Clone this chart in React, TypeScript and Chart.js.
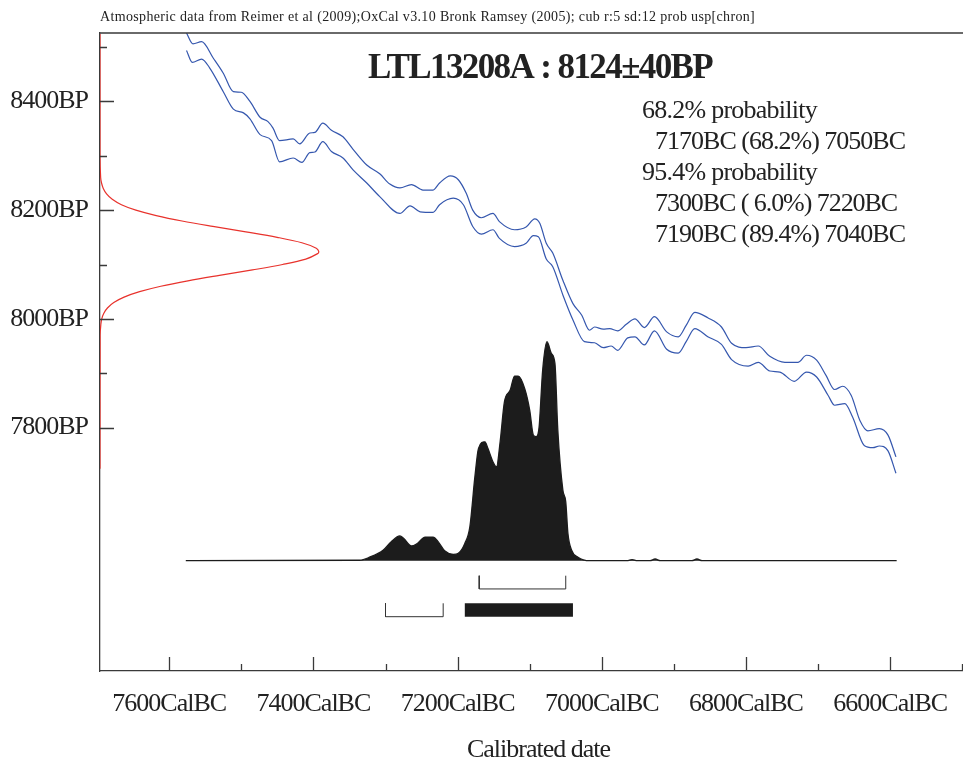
import React, { useEffect, useRef } from 'react';
import { Chart, registerables } from 'chart.js';

Chart.register(...registerables);

// ---------- DATA ----------
const X_TICKS = [7600, 7500, 7400, 7300, 7200, 7100, 7000, 6900, 6800, 6700, 6600, 6500];
const Y_TICKS = [8500, 8400, 8300, 8200, 8100, 8000, 7900, 7800];

// Calibration curve (IntCal09), upper and lower 1-sigma envelope: cal BC vs 14C BP
const UPPER_YEARS = [7576, 7567, 7555, 7539, 7525, 7511, 7500, 7488, 7474, 7463, 7456, 7447, 7428, 7419, 7405, 7398, 7387, 7375, 7359, 7345, 7326, 7308, 7294, 7280, 7264, 7248, 7234, 7225, 7210, 7199, 7188, 7179, 7167, 7151, 7142, 7121, 7105, 7093, 7086, 7077, 7068, 7054, 7040, 7028, 7017, 7010, 6998, 6989, 6978, 6966, 6954, 6941, 6927, 6910, 6894, 6883, 6871, 6853, 6834, 6820, 6800, 6783, 6767, 6746, 6728, 6716, 6702, 6689, 6677, 6666, 6654, 6642, 6631, 6615, 6603, 6592];
const UPPER_BP = [8526, 8506, 8510, 8480, 8452, 8418, 8417, 8400, 8371, 8363, 8351, 8328, 8331, 8322, 8342, 8343, 8360, 8347, 8335, 8312, 8283, 8267, 8248, 8241, 8247, 8237, 8237, 8250, 8263, 8256, 8231, 8200, 8186, 8194, 8179, 8164, 8169, 8184, 8176, 8139, 8121, 8071, 8028, 8007, 7979, 7985, 7981, 7982, 7978, 7990, 8000, 7984, 8004, 7976, 7967, 7988, 8012, 8002, 7985, 7955, 7947, 7950, 7931, 7920, 7920, 7933, 7924, 7896, 7870, 7876, 7859, 7813, 7794, 7798, 7786, 7746];
const LOWER_YEARS = [7576, 7568, 7555, 7544, 7525, 7511, 7497, 7488, 7474, 7458, 7447, 7428, 7416, 7405, 7398, 7387, 7375, 7359, 7345, 7326, 7308, 7280, 7266, 7252, 7234, 7225, 7206, 7192, 7179, 7167, 7151, 7142, 7121, 7105, 7095, 7088, 7077, 7068, 7054, 7040, 7024, 7010, 6998, 6987, 6978, 6964, 6954, 6941, 6927, 6910, 6894, 6883, 6871, 6853, 6834, 6820, 6797, 6783, 6767, 6753, 6733, 6716, 6702, 6686, 6677, 6663, 6652, 6636, 6624, 6615, 6603, 6592];
const LOWER_BP = [8494, 8472, 8478, 8462, 8418, 8386, 8379, 8368, 8339, 8328, 8289, 8296, 8288, 8306, 8307, 8326, 8308, 8296, 8274, 8250, 8225, 8194, 8208, 8197, 8196, 8210, 8222, 8210, 8170, 8156, 8164, 8148, 8133, 8139, 8153, 8151, 8110, 8096, 8044, 7998, 7958, 7956, 7947, 7950, 7942, 7965, 7967, 7952, 7978, 7944, 7937, 7958, 7982, 7967, 7953, 7925, 7913, 7920, 7904, 7902, 7885, 7902, 7893, 7859, 7841, 7844, 7819, 7767, 7763, 7766, 7757, 7716];

// Calibrated probability distribution (relative, peak = 1)
const DIST_YEARS = [7577, 7336, 7322, 7303, 7292, 7280, 7275, 7264, 7257, 7245, 7234, 7227, 7218, 7206, 7199, 7190, 7183, 7176, 7171, 7162, 7158, 7151, 7146, 7141, 7135, 7127, 7121, 7116, 7107, 7100, 7095, 7091, 7087, 7082, 7076, 7070, 7065, 7061, 7054, 7050, 7047, 7042, 7033, 7017, 6965, 6958, 6951, 6933, 6926, 6919, 6875, 6868, 6861, 6591];
const DIST_PROB = [0, 0.002, 0.016, 0.049, 0.087, 0.113, 0.102, 0.067, 0.076, 0.107, 0.107, 0.087, 0.046, 0.029, 0.034, 0.079, 0.155, 0.384, 0.513, 0.543, 0.513, 0.452, 0.429, 0.543, 0.726, 0.779, 0.843, 0.843, 0.787, 0.688, 0.574, 0.566, 0.609, 0.871, 1.0, 0.947, 0.901, 0.597, 0.323, 0.269, 0.125, 0.049, 0.016, 0, 0, 0.005, 0, 0, 0.008, 0, 0, 0.008, 0, 0];

// Radiocarbon measurement 8124±40 BP (relative density, peak = 1)
const C14_BP = [8524, 8300, 8260, 8250, 8240, 8230, 8220, 8210, 8200, 8190, 8180, 8170, 8160, 8150, 8140, 8130, 8124, 8120, 8110, 8100, 8090, 8080, 8070, 8060, 8050, 8040, 8030, 8020, 8010, 8000, 7990, 7970, 7724];
const C14_DENSITY = [0, 0, 0.003, 0.007, 0.015, 0.030, 0.056, 0.098, 0.164, 0.257, 0.375, 0.516, 0.667, 0.810, 0.923, 0.989, 1.0, 0.995, 0.941, 0.835, 0.697, 0.546, 0.402, 0.278, 0.181, 0.110, 0.063, 0.034, 0.017, 0.008, 0.004, 0.0006, 0];

// Calibrated ranges (cal BC)
const RANGE_68 = [[7170, 7050]];
const RANGE_95 = [[7300, 7220], [7190, 7040]];

const HEADER = 'Atmospheric data from Reimer et al (2009);OxCal v3.10 Bronk Ramsey (2005); cub r:5 sd:12 prob usp[chron]';
const TITLE = 'LTL13208A : 8124\u00b140BP';
const PROB_LINES = ['68.2% probability', '7170BC (68.2%) 7050BC', '95.4% probability', '7300BC ( 6.0%) 7220BC', '7190BC (89.4%) 7040BC'];
const X_TITLE = 'Calibrated date';

// ---------- STYLE / LAYOUT ----------
const W = 963;
const H = 761;
const FONT = '"Liberation Serif", "Times New Roman", serif';
const BLUE = '#3557ae';
const RED = '#e8322c';
const BLACK = '#1c1c1c';
const AXIS = '#3a3a3a';

const zip = (xs: number[], ys: number[]) => xs.map((x, i) => ({ x, y: ys[i] }));

function fitText(ctx: CanvasRenderingContext2D, text: string, x: number, y: number, width: number, font: string) {
  ctx.font = font;
  (ctx as any).letterSpacing = '0px';
  const w = ctx.measureText(text).width;
  const ls = (width - w) / text.length;
  (ctx as any).letterSpacing = ls.toFixed(2) + 'px';
  ctx.fillText(text, x, y);
  (ctx as any).letterSpacing = '0px';
}

const decorPlugin = {
  id: 'decor',
  beforeDraw(chart: any) {
    const ctx = chart.ctx as CanvasRenderingContext2D;
    ctx.save();
    ctx.fillStyle = '#ffffff';
    ctx.fillRect(0, 0, chart.width, chart.height);
    ctx.restore();
    (ctx as any).letterSpacing = '-1px';
  },
  afterDraw(chart: any) {
    const ctx = chart.ctx as CanvasRenderingContext2D;
    const a = chart.chartArea;
    const xs = chart.scales.x;
    const ys = chart.scales.y;
    ctx.save();
    ctx.strokeStyle = AXIS;
    ctx.lineWidth = 1.3;
    ctx.beginPath();
    ctx.moveTo(a.left, a.top);
    ctx.lineTo(a.right, a.top);
    X_TICKS.forEach((v) => {
      const px = Math.round(xs.getPixelForValue(v)) + 0.5;
      const len = v % 200 === 0 ? 14 : 7;
      ctx.moveTo(px, a.bottom);
      ctx.lineTo(px, a.bottom - len);
    });
    Y_TICKS.forEach((v) => {
      const py = Math.round(ys.getPixelForValue(v)) + 0.5;
      const len = v % 200 === 0 ? 14 : 7;
      ctx.moveTo(a.left, py);
      ctx.lineTo(a.left + len, py);
    });
    ctx.stroke();

    ctx.fillStyle = '#222';
    ctx.textAlign = 'left';
    ctx.textBaseline = 'alphabetic';
    fitText(ctx, HEADER, 100, 21, 655, `14px ${FONT}`);
    fitText(ctx, TITLE, 368, 78, 344, `bold 35px ${FONT}`);
    const lx = [642, 655, 642, 655, 655];
    const lw = [175, 250, 175, 242, 250];
    const lb = [118, 149, 180, 211, 242];
    PROB_LINES.forEach((t, i) => fitText(ctx, t, lx[i], lb[i], lw[i], `26px ${FONT}`));
    fitText(ctx, X_TITLE, 467, 757, 143, `26px ${FONT}`);
    ctx.restore();
  },
};

// vertical levels (in the distribution's relative-probability units) for the range marks
const LEVEL_68 = [-0.0685, -0.129];
const LEVEL_95 = [-0.1945, -0.2557];

export default function App() {
  const ref = useRef<HTMLCanvasElement>(null);

  useEffect(() => {
    const lineBase = { showLine: true, pointRadius: 0, pointHoverRadius: 0, fill: false };
    const bracket = (r: number[], lv: number[]) => [
      { x: r[0], y: lv[0] }, { x: r[0], y: lv[1] }, { x: r[1], y: lv[1] }, { x: r[1], y: lv[0] },
    ];
    const datasets: any[] = [
      { ...lineBase, label: 'upper', data: zip(UPPER_YEARS, UPPER_BP), xAxisID: 'x', yAxisID: 'y', borderColor: BLUE, borderWidth: 1.2, cubicInterpolationMode: 'monotone' },
      { ...lineBase, label: 'lower', data: zip(LOWER_YEARS, LOWER_BP), xAxisID: 'x', yAxisID: 'y', borderColor: BLUE, borderWidth: 1.2, cubicInterpolationMode: 'monotone' },
      { ...lineBase, label: 'dist', data: zip(DIST_YEARS, DIST_PROB), xAxisID: 'x', yAxisID: 'yp', borderColor: BLACK, backgroundColor: BLACK, borderWidth: 1.3, fill: 'origin', cubicInterpolationMode: 'monotone' },
      { ...lineBase, label: 'c14', data: C14_BP.map((b, i) => ({ x: C14_DENSITY[i], y: b })), xAxisID: 'xd', yAxisID: 'y', borderColor: RED, borderWidth: 1.2, tension: 0.35 },
    ];
    RANGE_68.forEach((r) => datasets.push({ ...lineBase, data: bracket(r, LEVEL_68), xAxisID: 'x', yAxisID: 'yp', borderColor: '#333', borderWidth: 1, tension: 0 }));
    RANGE_95.forEach((r, i) => {
      if (i === 0) {
        datasets.push({ ...lineBase, data: bracket(r, LEVEL_95), xAxisID: 'x', yAxisID: 'yp', borderColor: '#333', borderWidth: 1, tension: 0 });
      } else {
        const mid = (LEVEL_95[0] + LEVEL_95[1]) / 2;
        datasets.push({ ...lineBase, data: [{ x: r[0], y: mid }, { x: r[1], y: mid }], xAxisID: 'x', yAxisID: 'yp', borderColor: BLACK, borderWidth: 13.4, borderCapStyle: 'butt', tension: 0 });
      }
    });

    const tickFont = { family: FONT, size: 26 };
    const chart = new Chart(ref.current as HTMLCanvasElement, {
      type: 'scatter',
      data: { datasets },
      plugins: [decorPlugin],
      options: {
        responsive: false,
        animation: false,
        devicePixelRatio: 1,
        layout: { padding: { top: 33, left: 0, right: 0, bottom: 0 } },
        plugins: { legend: { display: false }, tooltip: { enabled: false } },
        events: [],
        scales: {
          x: {
            type: 'linear', position: 'bottom', reverse: true, min: 6499, max: 7696,
            afterBuildTicks: (s: any) => { s.ticks = X_TICKS.map((v) => ({ value: v })); },
            afterFit: (s: any) => { s.height = 90; s.paddingLeft = 0; s.paddingRight = 0; },
            grid: { display: true, drawOnChartArea: false, drawTicks: false },
            border: { display: true, color: AXIS, width: 1.3 },
            ticks: {
              maxRotation: 0, autoSkip: false, padding: 18, color: '#222', font: tickFont,
              callback: (v: any) => (Number(v) % 200 === 0 ? `${v}CalBC` : ''),
            },
          },
          y: {
            type: 'linear', position: 'left', min: 7352, max: 8526,
            afterBuildTicks: (s: any) => { s.ticks = Y_TICKS.map((v) => ({ value: v })); },
            afterFit: (s: any) => { s.width = 100; s.paddingTop = 0; s.paddingBottom = 0; },
            grid: { display: true, drawOnChartArea: false, drawTicks: false },
            border: { display: true, color: AXIS, width: 1.3 },
            ticks: {
              autoSkip: false, padding: 12, color: '#222', font: tickFont,
              callback: (v: any) => (Number(v) % 200 === 0 ? `${v}BP` : ''),
            },
          },
          yp: { type: 'linear', display: false, position: 'right', min: -0.5037, max: 2.4096 },
          xd: { type: 'linear', display: false, position: 'top', min: 0, max: 3.946 },
        },
      } as any,
    });
    return () => chart.destroy();
  }, []);

  return (
    <div style={{ position: 'fixed', left: 0, top: 0, width: W, height: H, overflow: 'hidden', background: '#fff' }}>
      <canvas ref={ref} width={W} height={H} style={{ display: 'block', width: W, height: H }} />
    </div>
  );
}
